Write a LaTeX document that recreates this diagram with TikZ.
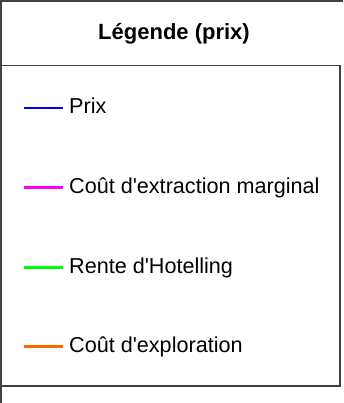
\documentclass[tikz,border=0pt]{standalone}
\usepackage{fontspec}
\setmainfont{Liberation Sans}[Ligatures=TeXOff]
\definecolor{frame}{rgb}{0.25,0.25,0.25}
\definecolor{keyblue}{rgb}{0,0,1}
\definecolor{keymagenta}{rgb}{1,0,1}
\definecolor{keygreen}{rgb}{0,1,0}
\definecolor{keyorange}{rgb}{1,0.4,0}
\begin{document}
\begin{tikzpicture}[x=1pt,y=-1pt,
  frameline/.style={draw=frame,line width=1.3pt},
  keyline/.style={line width=2.2pt},
  label/.style={anchor=base west,inner sep=0pt,font=\fontsize{21.6}{26}\selectfont,text=black},
  title/.style={anchor=base,inner sep=0pt,font=\bfseries\fontsize{22}{26}\selectfont,text=black}]
\useasboundingbox (0,0) rectangle (343,403);
\fill[white] (0,0) rectangle (343,403);
% frame
\draw[frameline] (343,1) -- (1,1) -- (1,403);
\draw[frameline] (1,65.5) -- (340,65.5) -- (340,386) -- (1,386);
% title
\node[title] (t) at (174,40) {Légende (prix)};
% items
\node[label] (l1) at (69,113.3) {Prix};
\node[label] (l2) at (69,193) {Coût d'extraction marginal};
\node[label] (l3) at (69,273) {Rente d'Hotelling};
\node[label] (l4) at (69,352) {Coût d'exploration};
\coordinate (s1) at (24,108);
\coordinate (s2) at (24,187.5);
\coordinate (s3) at (24,267.5);
\coordinate (s4) at (24,346.5);
\coordinate (e1) at (63,108);
\coordinate (e2) at (63,187.5);
\coordinate (e3) at (63,267.5);
\coordinate (e4) at (63,346.5);
\draw[keyline,draw=keyblue] (s1) -- (e1);
\draw[keyline,draw=keymagenta] (s2) -- (e2);
\draw[keyline,draw=keygreen] (s3) -- (e3);
\draw[keyline,draw=keyorange] (s4) -- (e4);
\end{tikzpicture}
\end{document}
